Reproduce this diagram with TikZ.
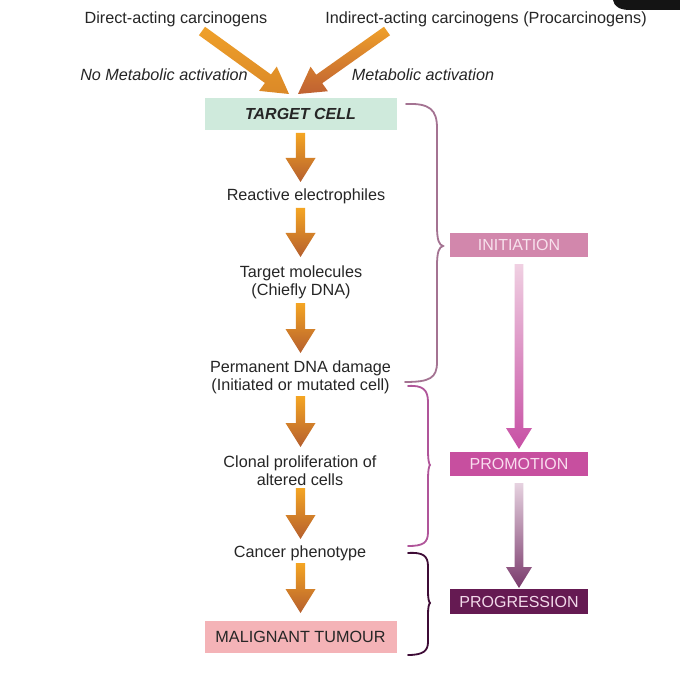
\documentclass[tikz,border=0pt]{standalone}
\usepackage{fontspec}
\setmainfont{Liberation Sans}
\usetikzlibrary{calc}
\definecolor{txt}{HTML}{262626}
\definecolor{greenbox}{HTML}{CFEADC}
\definecolor{pinkbox}{HTML}{F4B3B7}
\definecolor{initbox}{HTML}{D287AC}
\definecolor{promobox}{HTML}{C74F9F}
\definecolor{progbox}{HTML}{651A52}
\definecolor{inittxt}{HTML}{F7E1EC}
\definecolor{promotxt}{HTML}{F9DDEE}
\definecolor{progtxt}{HTML}{F2D9EA}
\definecolor{otop}{HTML}{F4A523}
\definecolor{obot}{HTML}{B55F2E}
\definecolor{otop2}{HTML}{EFA02A}
\definecolor{obot2}{HTML}{BF6132}
\definecolor{mtop}{HTML}{F0D0E2}
\definecolor{mbot}{HTML}{C74FA4}
\definecolor{ptop}{HTML}{E6D2E0}
\definecolor{pbot}{HTML}{7A3A6C}
\definecolor{brinit}{HTML}{A47392}
\definecolor{brpromo}{HTML}{B0559A}
\definecolor{brprog}{HTML}{3E0C36}
% #1 tail, #2 head, #3 shaft half width, #4 head half width, #5 head length, #6 top colour, #7 bottom colour
\newcommand\fatarrow[7]{%
  \coordinate (#1-base) at ($(#2)!#5!(#1)$);
  \shade[top color=#6, bottom color=#7]
    ($(#1)!#3!90:(#2)$) -- ($(#1-base)!#3!90:(#2)$) -- ($(#1-base)!#4!90:(#2)$)
    -- (#2) -- ($(#1-base)!#4!-90:(#2)$) -- ($(#1-base)!#3!-90:(#2)$)
    -- ($(#1)!#3!-90:(#2)$) -- cycle;
}
\begin{document}
\begin{tikzpicture}[x=1pt,y=-1pt,
  every node/.style={inner sep=0pt, text=txt},
  lbl/.style={font=\fontsize{16.2}{18}\selectfont, align=center},
  ital/.style={font=\fontsize{16.2}{18}\selectfont\itshape},
  leftbox/.style={font=\fontsize{16.2}{18}\selectfont, minimum width=192pt, minimum height=32pt},
  stagebox/.style={font=\fontsize{16}{18}\selectfont, minimum width=138pt, minimum height=24.5pt},
  bracestyle/.style={line width=1.8pt, line cap=round}
]
\useasboundingbox (0,0) rectangle (680,679);
\fill[white] (0,0) rectangle (680,679);
% screenshot corner
\fill[black!92] (613,0) .. controls (614,6) and (619,10) .. (630,10) -- (680,10) -- (680,0) -- cycle;

% top labels
\node[lbl] (direct) at (176,19.5) {Direct-acting carcinogens};
\node[lbl] (indirect) at (486,19.5) {Indirect-acting carcinogens (Procarcinogens)};
\node[ital] (nometab) at (164,74.5) {No Metabolic activation};
\node[ital] (metab) at (423,74.5) {Metabolic activation};

% left column
\node[leftbox, fill=greenbox, font=\fontsize{16}{18}\selectfont\bfseries\itshape] (target) at (300.5,114) {TARGET CELL};
\node[lbl] (react) at (306,196.5) {Reactive electrophiles};
\node[lbl] (molec) at (301,282) {Target molecules\\(Chiefly DNA)};
\node[lbl] (damage) at (300.5,377) {Permanent DNA damage\\(Initiated or mutated cell)};
\node[lbl] (clonal) at (300,470.5) {Clonal proliferation of\\altered cells};
\node[lbl] (pheno) at (300,553) {Cancer phenotype};
\node[leftbox, fill=pinkbox] (tumour) at (300.5,636.5) {MALIGNANT TUMOUR};

% right column
\node[stagebox, fill=initbox, text=inittxt] (init) at (519,245) {INITIATION};
\node[stagebox, fill=promobox, text=promotxt] (promo) at (519,464) {PROMOTION};
\node[stagebox, fill=progbox, text=progtxt] (prog) at (519,601.5) {PROGRESSION};

% diagonal arrows
\coordinate (d1) at (202,31);
\coordinate (d2) at (289,94);
\coordinate (i1) at (387,31);
\coordinate (i2) at (298,94);
\fatarrow{d1}{d2}{5.2pt}{15pt}{26pt}{otop2}{otop!60!obot}
\fatarrow{i1}{i2}{5.2pt}{15pt}{26pt}{otop2}{obot2}

% vertical arrows (left)
\coordinate (a1) at (300.5,133); \coordinate (b1) at (300.5,182);
\coordinate (a2) at (300.5,208); \coordinate (b2) at (300.5,257);
\coordinate (a3) at (300.5,303); \coordinate (b3) at (300.5,353);
\coordinate (a4) at (300.5,396); \coordinate (b4) at (300.5,447);
\coordinate (a5) at (300.5,488); \coordinate (b5) at (300.5,539);
\coordinate (a6) at (300.5,563); \coordinate (b6) at (300.5,613);
\foreach \k in {1,...,6}{\fatarrow{a\k}{b\k}{4.6pt}{15pt}{24pt}{otop}{obot}}

% stage arrows
\coordinate (m1) at (519,264); \coordinate (m2) at (519,449);
\coordinate (p1) at (519,483); \coordinate (p2) at (519,588);
\fatarrow{m1}{m2}{4.3pt}{13pt}{21pt}{mtop}{mbot}
\fatarrow{p1}{p2}{4.3pt}{13pt}{21pt}{ptop}{pbot}

% braces
\coordinate (tipinit) at (443,246);
\coordinate (tippromo) at (430,465);
\coordinate (tipprog) at (430,603);
\draw[bracestyle, brinit] (406,104) .. controls (430,103) and (437,110) .. (437,128) -- (437,226)
  .. controls (437,240) and (439,245) .. (tipinit)
  .. controls (439,247) and (437,252) .. (437,266) -- (437,362)
  .. controls (437,378) and (430,382) .. (405,382);
\draw[bracestyle, brpromo] (408,386) .. controls (423,385) and (428,390) .. (428,402) -- (428,450)
  .. controls (428,460) and (429,464) .. (tippromo)
  .. controls (429,466) and (428,470) .. (428,480) -- (428,532)
  .. controls (428,543) and (423,546) .. (408,546);
\draw[bracestyle, brprog] (408,553) .. controls (423,552) and (428,556) .. (428,566) -- (428,592)
  .. controls (428,599) and (429,602) .. (tipprog)
  .. controls (429,604) and (428,607) .. (428,614) -- (428,642)
  .. controls (428,651) and (423,655) .. (408,655);
\end{tikzpicture}
\end{document}
